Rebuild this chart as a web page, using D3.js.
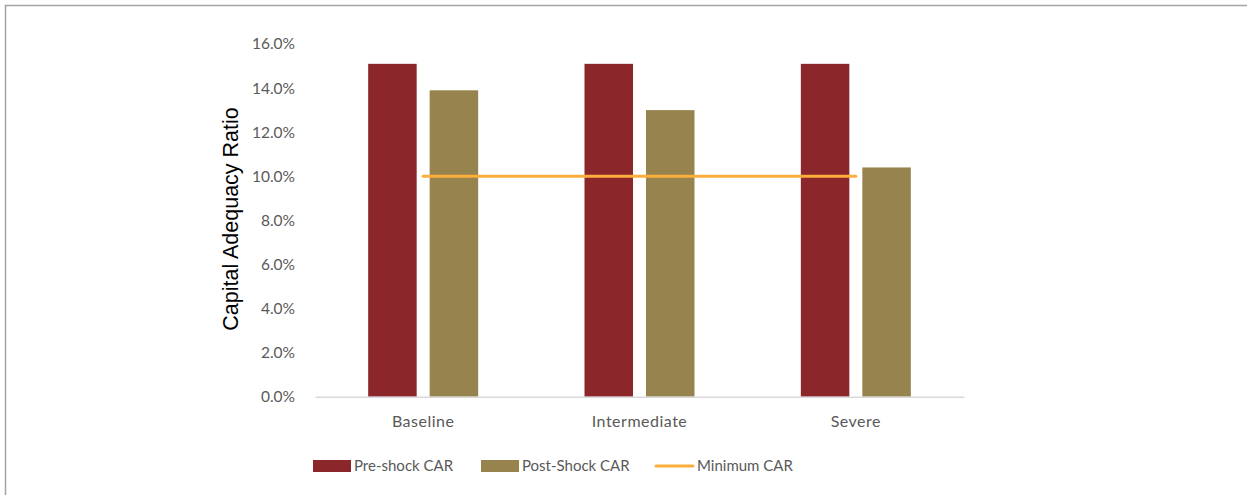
<!DOCTYPE html>
<html>
<head>
<meta charset="utf-8">
<script src="https://cdn.jsdelivr.net/npm/d3@7"></script>
<style>
  html, body { margin: 0; padding: 0; background: #fff; }
  svg { display: block; }
</style>
</head>
<body>
<svg id="chart" width="1247" height="495"></svg>
<script>
// Stress test scenarios and capital adequacy ratios (%)
const categories = ["Baseline", "Intermediate", "Severe"];
const seriesNames = ["Pre-shock CAR", "Post-Shock CAR"];
const preShock = [15.1, 15.1, 15.1];
const postShock = [13.9, 13.0, 10.4];
const minimumCAR = [10.0, 10.0, 10.0];
const yTicks = [0, 2, 4, 6, 8, 10, 12, 14, 16];
const lineName = "Minimum CAR";

const colors = { pre: "#8b272b", post: "#97834d", min: "#fbae3c" };
const tickFont = "Lato, 'Open Sans', sans-serif";

const svg = d3.select("#chart");

// Outer frame
svg.append("rect")
  .attr("x", 5.5).attr("y", 5.5)
  .attr("width", 1400).attr("height", 700)
  .attr("fill", "none")
  .attr("stroke", "#a3a3a3")
  .attr("stroke-width", 1.5);

const plot = { left: 315, right: 964, top: 44, bottom: 396.7 };

const x0 = d3.scaleBand().domain(categories).range([plot.left, plot.right]).padding(0);
const groupWidth = 110;
const x1 = d3.scaleBand().domain(seriesNames).range([0, groupWidth]).paddingInner(0.211).paddingOuter(0);
const y = d3.scaleLinear().domain([0, 16]).range([plot.bottom, plot.top]);

const rows = categories.map((c, i) => ({
  category: c,
  values: [
    { name: seriesNames[0], value: preShock[i], color: colors.pre },
    { name: seriesNames[1], value: postShock[i], color: colors.post }
  ],
  min: minimumCAR[i]
}));

// Y axis tick labels (no axis line)
const yAxis = d3.axisLeft(y).tickValues(yTicks).tickSize(0).tickPadding(0)
  .tickFormat(d => d.toFixed(1) + "%");
const yG = svg.append("g").attr("transform", "translate(295,0)").call(yAxis);
yG.select(".domain").remove();
yG.selectAll("text")
  .attr("fill", "#595959")
  .style("font-family", tickFont)
  .style("font-size", "15.5px");

// Bars
const groups = svg.append("g").selectAll("g").data(rows).join("g")
  .attr("transform", d => `translate(${x0(d.category) + x0.bandwidth() / 2 - groupWidth / 2},0)`);
groups.selectAll("rect").data(d => d.values).join("rect")
  .attr("x", d => x1(d.name))
  .attr("width", x1.bandwidth())
  .attr("y", d => y(d.value))
  .attr("height", d => y(0) - y(d.value))
  .attr("fill", d => d.color);

// X axis baseline and category labels
const xAxis = d3.axisBottom(x0).tickSize(0).tickPadding(19);
const xG = svg.append("g").attr("transform", `translate(0,${plot.bottom})`).call(xAxis);
xG.select(".domain").attr("stroke", "#d9d9d9").attr("stroke-width", 1.5);
xG.selectAll("text")
  .attr("fill", "#595959")
  .style("font-family", tickFont)
  .style("font-size", "16px")
  .style("letter-spacing", "0.5px");

// Minimum CAR line across scenario centres
const line = d3.line()
  .x((d, i) => x0(categories[i]) + x0.bandwidth() / 2)
  .y(d => y(d));
svg.append("path")
  .datum(minimumCAR)
  .attr("d", line)
  .attr("fill", "none")
  .attr("stroke", colors.min)
  .attr("stroke-width", 3)
  .attr("stroke-linecap", "round");

// Y axis title
svg.append("text")
  .attr("transform", "translate(238,219) rotate(-90)")
  .attr("text-anchor", "middle")
  .style("font-family", "'Liberation Sans', Arial, sans-serif")
  .style("font-size", "21.5px")
  .attr("fill", "#000")
  .text("Capital Adequacy Ratio");

// Legend
const legendY = 466;
const legendItems = [
  { name: seriesNames[0], type: "rect", color: colors.pre, x: 313 },
  { name: seriesNames[1], type: "rect", color: colors.post, x: 481 },
  { name: lineName, type: "line", color: colors.min, x: 656 }
];
const lg = svg.append("g").selectAll("g").data(legendItems).join("g")
  .attr("transform", d => `translate(${d.x},${legendY})`);
lg.filter(d => d.type === "rect").append("rect")
  .attr("x", 0).attr("y", -6).attr("width", 38).attr("height", 12)
  .attr("fill", d => d.color);
lg.filter(d => d.type === "line").append("line")
  .attr("x1", 0).attr("x2", 37).attr("y1", 0).attr("y2", 0)
  .attr("stroke", d => d.color).attr("stroke-width", 3).attr("stroke-linecap", "round");
lg.append("text")
  .attr("x", 41).attr("dy", "0.35em")
  .attr("fill", "#595959")
  .style("font-family", tickFont)
  .style("font-size", "15px")
  .text(d => d.name);
</script>
</body>
</html>
